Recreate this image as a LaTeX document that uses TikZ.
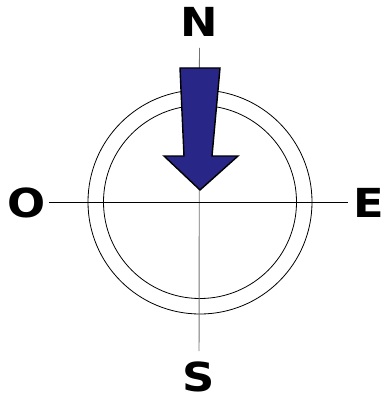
\documentclass[tikz,border=0pt]{standalone}
\usepackage{fontspec}
\newfontfamily\compassfont[FakeStretch=1.12]{DejaVu Sans}
\usepackage{tikz}
\usetikzlibrary{positioning}

\definecolor{arrowblue}{RGB}{40,38,135}

\begin{document}
\begin{tikzpicture}[
    x=1pt, y=-1pt,
    lbl/.style={inner sep=0pt, outer sep=0pt, text height=30pt, text depth=0pt,
                font=\compassfont\fontsize{40}{40}\selectfont\bfseries},
    ring/.style={circle, draw=black, line width=0.8pt, inner sep=0pt},
    axis/.style={line width=0.9pt},
    needle/.style={fill=arrowblue, draw=black, line width=1.4pt, line join=miter}
]
\useasboundingbox (0,0) rectangle (384,396);

\coordinate (c) at (200,202);

\node[ring, minimum size=224pt] (outer) at (c) {};
\node[ring, minimum size=193pt] (inner) at (c) {};

\node[lbl] (n) at (199.5,22) {N};
\node[lbl] (s) at (199,376)  {S};
\node[lbl] (o) at (27,202)   {O};
\node[lbl] (e) at (369,202)  {E};

\draw[axis, draw=black!55, shorten <=11pt, shorten >=10pt] (n) -- (s);
\draw[axis, shorten <=3pt, shorten >=6pt] (o) -- (e);

% needle
\draw[needle] (180,68) -- (220,68) -- (212,156) -- (238,156) -- (200,190)
    -- (164,156) -- (184,156) -- cycle;
\end{tikzpicture}
\end{document}
